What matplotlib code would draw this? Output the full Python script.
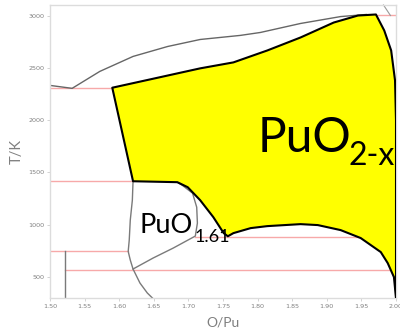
import matplotlib
matplotlib.use("Agg")
import matplotlib.pyplot as plt
import numpy as np

# --- phase boundaries of the Pu-O system (O/Pu, T in K) ---
# PuO2-x single-phase field
fluorite_top_x = [1.590, 1.645, 1.717, 1.765, 1.814, 1.862, 1.910, 1.945, 1.971]
fluorite_top_T = [2310, 2390, 2495, 2552, 2666, 2790, 2933, 3000, 3010]
fluorite_right_x = [1.983, 1.993, 1.9986, 2.000, 2.000]
fluorite_right_T = [2857, 2666, 2380, 2000, 300]
fluorite_low_x = [1.997, 1.988, 1.978, 1.949, 1.920, 1.887, 1.862, 1.814, 1.790,
                  1.765, 1.757, 1.751, 1.736, 1.717, 1.699, 1.684, 1.620]
fluorite_low_T = [500, 634, 739, 873, 949, 997, 1006, 987, 968,
                  920, 890, 920, 1073, 1235, 1359, 1407, 1416]

# liquidus / upper boundary
liquidus_x = [1.500, 1.532, 1.572, 1.620, 1.670, 1.717, 1.775, 1.804, 1.862, 1.920, 1.957]
liquidus_T = [2332, 2304, 2466, 2609, 2704, 2771, 2810, 2838, 2924, 2990, 3010]
top_right_x = [1.982, 1.992]
top_right_T = [3100, 3000]

# PuO1.61 field boundaries
pu161_left_x = [1.620, 1.619, 1.616, 1.6145, 1.613, 1.616, 1.620, 1.630, 1.6406, 1.648]
pu161_left_T = [1416, 1235, 1044, 853, 745, 663, 577, 443, 348, 300]
pu161_right_x = [1.684, 1.691, 1.706, 1.712, 1.713, 1.710, 1.678, 1.649, 1.620]
pu161_right_T = [1407, 1378, 1302, 1168, 1016, 892, 777, 682, 577]

# vertical boundary near Pu2O3
pu2o3_x = [1.522, 1.522]
pu2o3_T = [745, 300]

# invariant (isothermal) lines: (T, x_start, x_end)
iso_T = [2306, 1419, 745, 570, 885, 3003]
iso_x0 = [1.500, 1.500, 1.500, 1.522, 1.710, 1.960]
iso_x1 = [1.590, 1.620, 1.613, 2.000, 2.000, 2.000]

xticks = [1.50, 1.55, 1.60, 1.65, 1.70, 1.75, 1.80, 1.85, 1.90, 1.95, 2.00]
yticks = [500, 1000, 1500, 2000, 2500, 3000]

fig = plt.figure(figsize=(4.0, 3.31), dpi=100)
ax = fig.add_axes([0.125, 0.0997, 0.865, 0.885])
ax.set_xlim(1.5, 2.0)
ax.set_ylim(300, 3100)

pink = "#f7a9a9"
gray = "#7a7a7a"

for T, x0, x1 in zip(iso_T, iso_x0, iso_x1):
    ax.plot([x0, x1], [T, T], color=pink, lw=1.0, zorder=1)

ax.plot(liquidus_x, liquidus_T, color="#666666", lw=1.0, zorder=2)
ax.plot(top_right_x, top_right_T, color="#999999", lw=0.8, zorder=2, clip_on=False)
ax.plot(pu161_left_x, pu161_left_T, color=gray, lw=1.0, zorder=2)
ax.plot(pu161_right_x, pu161_right_T, color=gray, lw=1.0, zorder=2)
ax.plot(pu2o3_x, pu2o3_T, color=gray, lw=1.0, zorder=2)

poly_x = fluorite_top_x + fluorite_right_x + fluorite_low_x + [fluorite_top_x[0]]
poly_T = fluorite_top_T + fluorite_right_T + fluorite_low_T + [fluorite_top_T[0]]
ax.fill(poly_x, poly_T, facecolor="#ffff00", edgecolor="black", lw=1.5,
        joinstyle="round", zorder=3)

label_font = "Lato"
ax.text(0.601, 0.498, "PuO", transform=ax.transAxes, fontsize=34.5,
        family=label_font, ha="left", va="baseline", zorder=5)
ax.text(0.862, 0.454, "2-x", transform=ax.transAxes, fontsize=23,
        family=label_font, ha="left", va="baseline", zorder=5)
ax.text(0.260, 0.222, "PuO", transform=ax.transAxes, fontsize=19.5,
        family=label_font, ha="left", va="baseline", zorder=5)
ax.text(0.418, 0.191, "1.61", transform=ax.transAxes, fontsize=13,
        family=label_font, ha="left", va="baseline", zorder=5)

ax.set_xticks(xticks)
ax.set_xticklabels([f"{v:.2f}" for v in xticks])
ax.set_yticks(yticks)
ax.tick_params(labelsize=4.6, colors="#cccccc", labelcolor="#808080",
               length=2, width=0.6, pad=2)
for sp in ax.spines.values():
    sp.set_color("#dcdcdc")
    sp.set_linewidth(1.0)

ax.set_xlabel("O/Pu", fontsize=10, color="#7f7f7f", family=label_font, labelpad=6)
ax.set_ylabel("T/K", fontsize=10.5, color="#7f7f7f", family=label_font, labelpad=3)

fig.savefig("out.png", dpi=100)
